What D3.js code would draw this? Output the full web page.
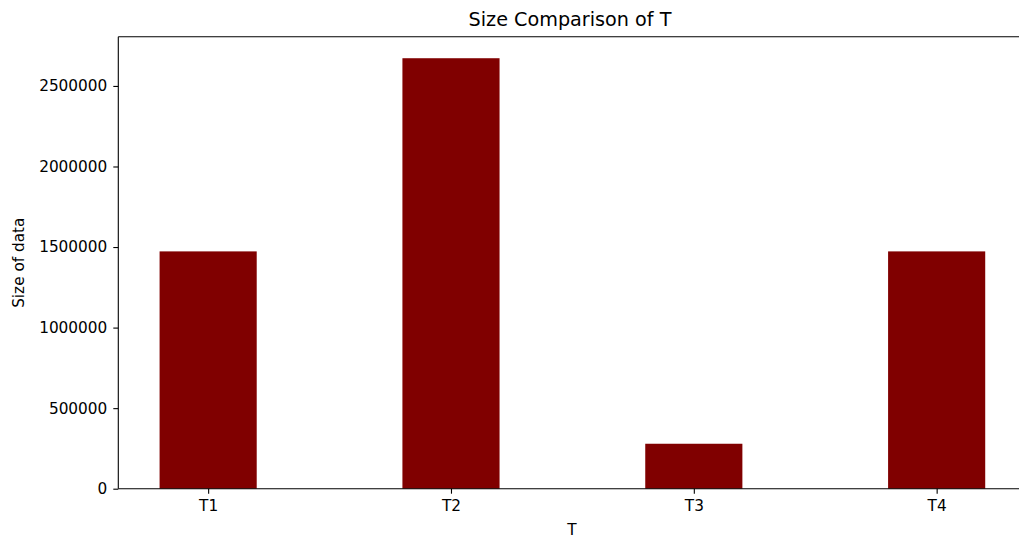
<!DOCTYPE html>
<html><head><meta charset="utf-8">
<script src="https://cdn.jsdelivr.net/npm/d3@7"></script>
<style>body{margin:0;background:#fff;overflow:hidden}svg{display:block;font-family:"DejaVu Sans",sans-serif}</style>
</head><body><svg id="c" width="1019" height="538"></svg>
<script>
const categories = ["T1","T2","T3","T4"];
const sizes = [1473000, 2672000, 279000, 1473000];
const yTicks = [0,500000,1000000,1500000,2000000,2500000];

(function(){
const svg = d3.select("#c");
const L = 118.3, R = 1026.5, T = 36.7, B = 488.7;
const x = d3.scaleLinear().domain([-0.37, 3.37]).range([L, R]);
const y = d3.scaleLinear().domain([0, 2672000*1.05]).range([B, T]);
const bw = x(0.4) - x(0);

svg.append("g").selectAll("rect").data(sizes).join("rect")
  .attr("x",(d,i)=>x(i)-bw/2).attr("width",bw)
  .attr("y",d=>y(d)).attr("height",d=>B-y(d))
  .attr("fill","#800000");

const yAxis = d3.axisLeft(y).tickValues(yTicks).tickFormat(d=>String(d)).tickSize(5).tickPadding(6);
const gy = svg.append("g").attr("transform",`translate(${L},0)`).call(yAxis);
const xAxis = d3.axisBottom(x).tickValues(d3.range(categories.length)).tickFormat(i=>categories[i]).tickSize(5).tickPadding(6);
const gx = svg.append("g").attr("transform",`translate(0,${B})`).call(xAxis);
[gx,gy].forEach(g=>{
  g.select(".domain").remove();
  g.selectAll("line").attr("stroke","#000").attr("stroke-width",1.1);
  g.selectAll("text").attr("font-size",15.3).attr("fill","#000").attr("font-family","DejaVu Sans");
});
const sp = svg.append("g").attr("stroke","#000").attr("stroke-width",1.1);
sp.append("line").attr("x1",L).attr("x2",L).attr("y1",T).attr("y2",B);
sp.append("line").attr("x1",L).attr("x2",R).attr("y1",T).attr("y2",T);
sp.append("line").attr("x1",L).attr("x2",R).attr("y1",B).attr("y2",B);

svg.append("text").attr("x",570).attr("y",25.7).attr("text-anchor","middle")
  .attr("font-size",19.2).text("Size Comparison of T");
svg.append("text").attr("x",572).attr("y",535).attr("text-anchor","middle")
  .attr("font-size",15.3).text("T");
svg.append("text").attr("transform",`translate(24,${(T+B)/2}) rotate(-90)`).attr("text-anchor","middle")
  .attr("font-size",15.3).text("Size of data");
})();
</script></body></html>
